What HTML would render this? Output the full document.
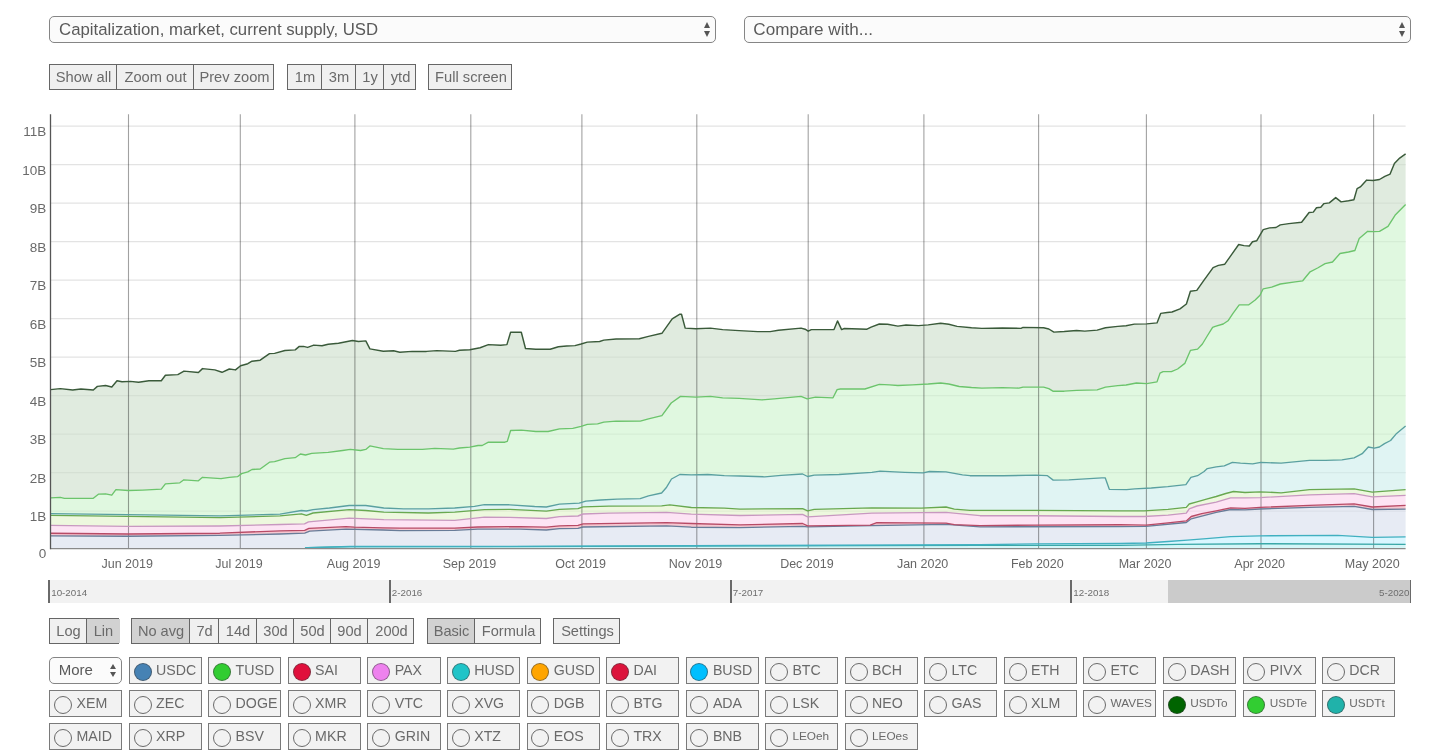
<!DOCTYPE html>
<html><head><meta charset="utf-8"><title>Chart</title>
<style>
html,body{margin:0;padding:0;background:#fff;}
body{width:1456px;height:750px;position:relative;overflow:hidden;font-family:"Liberation Sans",Arial,sans-serif;color:#666;}
.chart{position:absolute;left:0;top:0;}
.sel{position:absolute;box-sizing:border-box;border:1.5px solid #858585;border-radius:5px;background:#fbfbfb;}
.sel .st{position:absolute;top:1.6px;bottom:0;display:flex;align-items:center;color:#5a5a5a;white-space:nowrap;}
.arr{position:absolute;top:50%;width:7px;height:14.6px;margin-top:-7px;}
.arr:before,.arr:after{content:"";position:absolute;left:0;border-left:3.5px solid transparent;border-right:3.5px solid transparent;}
.arr:before{top:0;border-bottom:6px solid #555;}
.arr:after{bottom:0;border-top:6px solid #555;}
.arr.sm{width:6px;height:13px;margin-top:-6.8px;}.arr.sm:before,.arr.sm:after{border-left-width:3px;border-right-width:3px;}.arr.sm:before{border-bottom-width:5px;}.arr.sm:after{border-top-width:5px;}
.grp{position:absolute;box-sizing:border-box;border:1px solid #666;background:#f0f0f0;}
.grp .b{position:absolute;top:0;bottom:0;display:flex;align-items:center;justify-content:center;color:#6a6a6a;white-space:nowrap;}
.grp .b.act{background:#d2d2d2;}
.grp .dv{position:absolute;top:0;bottom:0;width:1px;background:#666;}
.nav{position:absolute;left:49.3px;top:579.8px;width:1361.7px;height:22.8px;background:#f2f2f2;}
.navsel{position:absolute;left:1118.7px;top:0;bottom:0;right:0;background:#cbcbcb;}
.ntick{position:absolute;top:0.4px;bottom:-0.4px;width:1.6px;background:#6a6a6a;}
.nlab{position:absolute;top:7px;font-size:9.8px;line-height:11px;color:#6e6e6e;}
.nlab.r{left:auto;}
.coin{position:absolute;box-sizing:border-box;width:73.2px;height:26.8px;border:1.5px solid #7a7a7a;background:#f2f2f2;}
.coin .c{position:absolute;left:3.9px;top:4.6px;width:16px;height:16px;border:1px solid #6a6a6a;border-radius:50%;box-sizing:content-box;}
.coin .c.f{border-color:rgba(60,60,60,0.55);}
.coin .cl{position:absolute;left:26.3px;top:-0.9px;bottom:0.9px;display:flex;align-items:center;color:#6a6a6a;white-space:nowrap;}
</style></head><body>
<svg class="chart" width="1456" height="610" viewBox="0 0 1456 610">
<g stroke="#e3e3e3" stroke-width="1.25"><line x1="50.5" x2="1405.6" y1="511.1" y2="511.1" /><line x1="50.5" x2="1405.6" y1="472.6" y2="472.6" /><line x1="50.5" x2="1405.6" y1="434.1" y2="434.1" /><line x1="50.5" x2="1405.6" y1="395.6" y2="395.6" /><line x1="50.5" x2="1405.6" y1="357.1" y2="357.1" /><line x1="50.5" x2="1405.6" y1="318.6" y2="318.6" /><line x1="50.5" x2="1405.6" y1="280.1" y2="280.1" /><line x1="50.5" x2="1405.6" y1="241.6" y2="241.6" /><line x1="50.5" x2="1405.6" y1="203.1" y2="203.1" /><line x1="50.5" x2="1405.6" y1="164.6" y2="164.6" /><line x1="50.5" x2="1405.6" y1="126.1" y2="126.1" /></g>
<g><polygon points="50.5,548.6 300.0,548.6 308.0,547.6 350.0,546.7 510.0,546.6 750.0,545.9 980.0,545.3 1120.0,545.4 1177.7,544.4 1260.0,543.7 1405.6,544.3 1405.6,548.6 1260.0,548.6 1177.7,548.6 1120.0,548.6 980.0,548.6 750.0,548.6 510.0,548.6 350.0,548.6 308.0,548.6 300.0,548.6 50.5,548.6" fill="rgb(185,240,244)" fill-opacity="0.62"/><polygon points="50.5,548.6 300.0,548.6 308.0,547.6 350.0,546.5 510.0,546.3 750.0,545.5 980.0,544.7 1035.0,543.8 1120.0,543.5 1146.0,543.0 1168.0,541.5 1177.7,540.8 1187.3,540.1 1206.5,538.7 1230.6,536.7 1260.0,535.8 1337.8,535.4 1372.3,537.4 1405.6,536.8 1405.6,544.3 1372.3,544.2 1337.8,544.0 1260.0,543.7 1230.6,544.0 1206.5,544.2 1187.3,544.3 1177.7,544.4 1168.0,544.6 1146.0,544.9 1120.0,545.4 1035.0,545.3 980.0,545.3 750.0,545.9 510.0,546.6 350.0,546.7 308.0,547.6 300.0,548.6 50.5,548.6" fill="rgb(193,240,255)" fill-opacity="0.62"/><polygon points="50.5,535.9 127.5,536.2 219.8,535.4 280.0,534.0 300.0,533.4 304.7,533.2 308.0,531.9 309.7,531.2 346.0,529.1 350.0,529.2 383.0,530.0 400.0,530.6 454.7,530.3 477.8,529.1 510.0,529.1 520.0,529.1 546.3,530.0 559.4,528.7 578.0,528.4 583.0,527.0 666.6,525.9 691.3,527.2 740.0,527.6 750.0,527.4 802.6,526.3 807.6,526.8 871.9,525.6 946.0,524.3 980.0,526.8 1035.0,526.7 1120.0,526.6 1146.0,526.3 1168.0,524.2 1186.3,522.5 1187.3,521.7 1191.2,518.8 1206.5,514.9 1216.2,512.4 1230.6,509.5 1245.0,509.8 1260.0,509.0 1309.5,507.4 1337.8,506.8 1354.1,506.4 1372.3,509.5 1405.6,509.1 1405.6,536.8 1372.3,537.4 1354.1,536.3 1337.8,535.4 1309.5,535.5 1260.0,535.8 1245.0,536.3 1230.6,536.7 1216.2,537.9 1206.5,538.7 1191.2,539.8 1187.3,540.1 1186.3,540.2 1168.0,541.5 1146.0,543.0 1120.0,543.5 1035.0,543.8 980.0,544.7 946.0,544.8 871.9,545.1 807.6,545.3 802.6,545.3 750.0,545.5 740.0,545.5 691.3,545.7 666.6,545.8 583.0,546.1 578.0,546.1 559.4,546.1 546.3,546.2 520.0,546.3 510.0,546.3 477.8,546.3 454.7,546.4 400.0,546.4 383.0,546.5 350.0,546.5 346.0,546.6 309.7,547.6 308.0,547.6 304.7,548.0 300.0,548.6 280.0,548.6 219.8,548.6 127.5,548.6 50.5,548.6" fill="rgb(217,223,238)" fill-opacity="0.62"/><polygon points="50.5,533.2 127.5,534.0 219.8,533.2 280.0,530.8 304.7,530.4 308.9,528.3 309.7,528.3 346.0,526.6 354.2,527.1 383.0,527.9 400.0,528.2 454.7,528.1 477.8,527.0 520.0,526.6 546.3,527.2 559.4,525.8 578.0,525.4 583.0,523.8 666.6,522.6 691.3,523.5 740.0,524.8 802.6,523.5 807.6,525.9 870.2,525.1 871.9,524.5 876.8,522.6 946.0,523.1 954.3,524.6 980.0,525.6 1035.9,525.1 1120.0,524.7 1146.0,525.2 1168.0,522.8 1186.3,520.9 1191.2,516.5 1201.7,513.7 1216.2,510.8 1230.6,507.9 1245.0,508.4 1260.0,507.4 1309.5,505.4 1354.1,503.8 1372.3,507.0 1405.6,505.4 1405.6,509.1 1372.3,509.5 1354.1,506.4 1309.5,507.4 1260.0,509.0 1245.0,509.8 1230.6,509.5 1216.2,512.4 1201.7,516.1 1191.2,518.8 1186.3,522.5 1168.0,524.2 1146.0,526.3 1120.0,526.6 1035.9,526.7 980.0,526.8 954.3,524.9 946.0,524.3 876.8,525.5 871.9,525.6 870.2,525.6 807.6,526.8 802.6,526.3 740.0,527.6 691.3,527.2 666.6,525.9 583.0,527.0 578.0,528.4 559.4,528.7 546.3,530.0 520.0,529.1 477.8,529.1 454.7,530.3 400.0,530.6 383.0,530.0 354.2,529.3 346.0,529.1 309.7,531.2 308.9,531.5 304.7,533.2 280.0,534.0 219.8,535.4 127.5,536.2 50.5,535.9" fill="rgb(241,164,180)" fill-opacity="0.62"/><polygon points="50.5,525.3 127.5,526.3 219.8,526.0 280.0,524.5 304.5,523.9 304.7,523.8 308.5,521.8 308.9,521.8 346.0,518.5 349.2,518.2 354.2,518.4 383.0,519.6 383.8,519.6 400.0,519.8 454.7,520.4 477.8,517.8 484.4,517.1 510.0,517.4 520.0,517.7 546.3,518.5 559.4,516.6 578.0,516.0 583.0,514.0 608.9,513.1 666.6,512.4 691.3,514.1 740.0,515.5 802.6,514.4 807.6,516.9 870.2,513.2 871.9,513.1 876.8,513.1 946.0,512.4 954.3,513.2 980.0,515.7 1035.9,515.7 1120.0,516.5 1144.0,516.5 1146.0,516.4 1168.0,515.1 1186.3,513.2 1189.2,508.8 1191.2,508.1 1196.9,506.0 1201.7,505.0 1216.2,502.1 1230.6,497.8 1245.0,497.8 1260.0,497.6 1309.5,494.9 1354.1,493.7 1372.3,496.9 1405.6,495.3 1405.6,505.4 1372.3,507.0 1354.1,503.8 1309.5,505.4 1260.0,507.4 1245.0,508.4 1230.6,507.9 1216.2,510.8 1201.7,513.7 1196.9,515.0 1191.2,516.5 1189.2,518.3 1186.3,520.9 1168.0,522.8 1146.0,525.2 1144.0,525.2 1120.0,524.7 1035.9,525.1 980.0,525.6 954.3,524.6 946.0,523.1 876.8,522.6 871.9,524.5 870.2,525.1 807.6,525.9 802.6,523.5 740.0,524.8 691.3,523.5 666.6,522.6 608.9,523.4 583.0,523.8 578.0,525.4 559.4,525.8 546.3,527.2 520.0,526.6 510.0,526.7 484.4,526.9 477.8,527.0 454.7,528.1 400.0,528.2 383.8,527.9 383.0,527.9 354.2,527.1 349.2,526.8 346.0,526.6 308.9,528.3 308.5,528.5 304.7,530.4 304.5,530.4 280.0,530.8 219.8,533.2 127.5,534.0 50.5,533.2" fill="rgb(251,211,238)" fill-opacity="0.62"/><polygon points="50.5,515.4 127.5,516.4 219.8,517.7 280.0,515.9 301.4,513.8 304.5,514.8 306.4,515.4 308.5,514.6 313.0,513.0 349.2,509.7 365.7,510.5 383.8,512.1 428.3,513.0 454.7,512.1 484.4,509.7 510.0,509.4 546.3,511.1 559.4,509.3 578.0,508.7 583.0,506.8 608.9,506.2 661.6,505.8 666.6,505.2 669.9,504.8 691.3,507.5 724.3,508.1 740.0,509.1 802.6,508.6 807.6,510.8 814.2,509.4 871.9,507.8 921.3,508.1 946.0,507.0 954.3,509.1 970.0,510.3 980.0,510.3 1035.9,510.3 1120.0,510.8 1144.0,510.8 1168.0,509.3 1186.3,507.4 1189.2,504.0 1196.9,501.9 1206.5,499.2 1216.2,496.5 1225.8,493.5 1230.6,492.3 1233.5,491.5 1245.0,492.5 1260.0,491.8 1281.1,492.8 1309.5,489.6 1354.1,488.8 1372.3,492.2 1405.6,489.6 1405.6,495.3 1372.3,496.9 1354.1,493.7 1309.5,494.9 1281.1,496.4 1260.0,497.6 1245.0,497.8 1233.5,497.8 1230.6,497.8 1225.8,499.2 1216.2,502.1 1206.5,504.1 1196.9,506.0 1189.2,508.8 1186.3,513.2 1168.0,515.1 1144.0,516.5 1120.0,516.5 1035.9,515.7 980.0,515.7 970.0,514.7 954.3,513.2 946.0,512.4 921.3,512.6 871.9,513.1 814.2,516.5 807.6,516.9 802.6,514.4 740.0,515.5 724.3,515.0 691.3,514.1 669.9,512.6 666.6,512.4 661.6,512.5 608.9,513.1 583.0,514.0 578.0,516.0 559.4,516.6 546.3,518.5 510.0,517.4 484.4,517.1 454.7,520.4 428.3,520.1 383.8,519.6 365.7,518.9 349.2,518.2 313.0,521.4 308.5,521.8 306.4,522.9 304.5,523.9 301.4,524.0 280.0,524.5 219.8,526.0 127.5,526.3 50.5,525.3" fill="rgb(226,244,201)" fill-opacity="0.62"/><polygon points="50.5,513.6 127.5,514.7 219.8,515.9 280.0,514.2 301.4,510.5 306.4,511.0 313.0,509.7 329.4,508.0 349.2,505.5 365.7,505.5 383.8,508.0 403.6,508.8 428.3,508.8 454.7,508.0 474.5,506.4 484.4,504.7 510.0,504.8 534.7,506.5 546.3,507.0 559.4,504.2 578.0,503.3 579.2,503.2 583.0,502.0 585.8,501.2 600.7,500.0 608.9,499.6 617.1,499.2 640.2,498.7 648.5,495.9 661.6,493.0 666.6,487.2 669.9,481.7 671.5,479.0 679.8,474.5 691.3,474.8 707.8,474.5 724.3,475.7 740.0,476.0 764.7,476.8 781.2,475.3 802.6,474.0 807.6,476.5 814.2,475.2 838.9,474.5 871.9,472.4 880.1,471.2 904.8,472.4 921.3,472.9 923.0,472.9 929.5,471.5 946.0,471.9 954.3,473.4 962.5,474.8 970.0,475.7 1003.0,475.7 1035.9,475.2 1047.5,475.7 1053.2,480.1 1068.9,479.8 1101.9,477.8 1105.2,477.8 1109.3,489.3 1120.0,489.5 1126.6,489.7 1134.8,488.8 1144.0,488.4 1151.3,488.0 1167.8,486.7 1168.0,486.7 1185.9,484.7 1186.3,484.1 1189.2,479.8 1190.9,477.3 1196.9,475.8 1197.5,475.7 1204.1,471.5 1206.5,469.3 1207.3,468.6 1216.2,466.9 1224.3,465.9 1225.8,465.3 1232.4,462.4 1233.5,462.5 1240.5,463.2 1245.0,463.5 1252.7,463.9 1260.0,462.5 1260.8,462.4 1281.1,463.2 1309.5,460.4 1325.7,460.4 1341.9,459.8 1354.1,457.8 1362.2,453.7 1368.3,447.0 1372.3,447.8 1374.3,448.2 1379.4,447.0 1384.5,443.6 1390.6,440.5 1396.6,433.4 1405.6,425.9 1405.6,489.6 1396.6,490.3 1390.6,490.8 1384.5,491.2 1379.4,491.6 1374.3,492.0 1372.3,492.2 1368.3,491.5 1362.2,490.3 1354.1,488.8 1341.9,489.0 1325.7,489.3 1309.5,489.6 1281.1,492.8 1260.8,491.8 1260.0,491.8 1252.7,492.1 1245.0,492.5 1240.5,492.1 1233.5,491.5 1232.4,491.8 1225.8,493.5 1224.3,494.0 1216.2,496.5 1207.3,499.0 1206.5,499.2 1204.1,499.9 1197.5,501.7 1196.9,501.9 1190.9,503.5 1189.2,504.0 1186.3,507.4 1185.9,507.4 1168.0,509.3 1167.8,509.3 1151.3,510.3 1144.0,510.8 1134.8,510.8 1126.6,510.8 1120.0,510.8 1109.3,510.7 1105.2,510.7 1101.9,510.7 1068.9,510.5 1053.2,510.4 1047.5,510.4 1035.9,510.3 1003.0,510.3 970.0,510.3 962.5,509.7 954.3,509.1 946.0,507.0 929.5,507.7 923.0,508.0 921.3,508.1 904.8,508.0 880.1,507.8 871.9,507.8 838.9,508.7 814.2,509.4 807.6,510.8 802.6,508.6 781.2,508.8 764.7,508.9 740.0,509.1 724.3,508.1 707.8,507.8 691.3,507.5 679.8,506.0 671.5,505.0 669.9,504.8 666.6,505.2 661.6,505.8 648.5,505.9 640.2,506.0 617.1,506.1 608.9,506.2 600.7,506.4 585.8,506.7 583.0,506.8 579.2,508.2 578.0,508.7 559.4,509.3 546.3,511.1 534.7,510.6 510.0,509.4 484.4,509.7 474.5,510.5 454.7,512.1 428.3,513.0 403.6,512.5 383.8,512.1 365.7,510.5 349.2,509.7 329.4,511.5 313.0,513.0 306.4,515.4 301.4,513.8 280.0,515.9 219.8,517.7 127.5,516.4 50.5,515.4" fill="rgb(205,238,236)" fill-opacity="0.62"/><polygon points="50.5,497.9 60.3,497.3 64.4,498.3 93.3,498.3 98.4,494.2 105.6,493.8 111.8,495.2 115.9,489.6 127.5,490.4 128.3,490.5 142.7,490.1 161.3,489.2 165.4,483.9 179.8,482.8 183.9,479.8 198.4,480.8 202.5,477.3 219.8,478.6 221.0,478.7 229.3,477.3 237.5,476.7 241.6,473.6 247.8,471.9 252.0,469.5 260.2,469.0 269.5,462.2 274.6,461.6 280.0,460.1 284.9,458.7 295.2,457.7 300.4,454.0 301.4,454.2 305.5,455.0 306.4,454.8 311.7,453.4 313.0,453.3 328.2,452.4 329.4,452.2 342.6,450.5 349.2,449.6 350.3,449.4 360.6,450.5 365.7,449.4 365.8,449.4 369.9,445.9 383.3,448.6 383.8,448.6 397.7,449.4 403.6,449.4 422.4,449.4 428.3,448.9 434.8,448.4 453.3,449.2 454.7,448.9 459.5,448.0 469.8,447.2 474.5,446.2 478.1,445.5 482.2,445.5 484.4,444.3 488.4,442.2 504.8,442.2 507.3,441.4 510.0,432.5 510.6,430.5 521.3,430.1 534.7,431.4 535.8,431.5 546.3,431.5 548.1,431.5 559.4,428.8 559.5,428.8 572.8,428.4 579.2,426.9 581.1,426.4 585.8,424.8 587.3,424.3 597.6,423.9 600.7,423.0 603.8,422.2 616.1,421.2 617.1,421.2 640.2,421.1 640.3,421.1 648.5,418.8 661.6,415.8 661.9,415.7 666.6,409.3 671.2,403.0 671.5,402.8 679.8,396.9 680.5,396.4 691.3,397.0 695.9,397.2 707.8,396.5 710.4,396.4 722.7,397.8 724.3,397.9 739.2,398.4 740.0,398.5 761.9,399.9 764.7,399.6 774.2,398.8 781.2,398.2 801.0,396.4 802.6,397.0 807.2,398.8 807.6,398.7 814.2,397.5 815.5,397.2 833.0,397.8 837.1,389.6 838.9,389.3 840.2,389.0 864.9,389.0 871.9,386.8 879.3,384.4 880.1,384.4 889.6,384.8 897.9,385.5 904.8,385.2 912.3,384.8 923.0,384.3 928.2,384.0 929.5,383.9 940.6,383.0 946.0,383.7 948.8,384.0 959.2,386.5 962.5,386.8 970.0,387.4 971.5,387.5 981.8,388.1 1002.4,387.7 1003.0,387.7 1018.9,388.1 1023.0,387.1 1035.9,387.1 1043.6,387.1 1047.5,388.3 1048.8,388.7 1052.9,391.2 1053.2,391.2 1064.2,391.2 1068.9,390.9 1076.6,390.4 1097.2,389.8 1101.9,388.3 1105.2,387.2 1105.5,387.1 1109.3,386.6 1117.8,385.6 1126.1,385.0 1126.6,384.9 1134.8,383.3 1136.4,383.0 1146.7,383.6 1151.3,382.8 1157.0,381.9 1160.0,373.1 1163.1,371.6 1167.8,371.6 1171.4,371.6 1177.6,369.0 1184.8,363.4 1185.9,360.8 1187.9,356.2 1190.4,350.4 1190.9,350.3 1197.5,349.1 1197.6,349.1 1202.4,344.0 1204.1,341.2 1207.2,336.0 1207.3,335.8 1212.6,327.4 1215.2,326.4 1216.2,326.1 1223.2,324.0 1224.3,323.3 1228.0,320.8 1232.4,314.2 1232.8,313.6 1239.2,304.8 1240.5,304.8 1248.8,304.8 1252.7,301.9 1255.2,300.0 1260.0,295.2 1260.8,293.6 1263.2,288.8 1271.7,287.2 1280.3,284.0 1281.1,283.9 1295.2,281.9 1302.7,280.8 1309.5,272.5 1310.1,271.8 1317.6,268.0 1325.1,263.7 1325.7,263.6 1332.5,262.0 1340.0,253.5 1341.9,253.2 1348.5,252.0 1354.1,250.7 1354.9,250.5 1359.2,238.6 1362.2,236.0 1367.7,231.3 1368.3,231.3 1374.1,231.7 1374.3,231.7 1379.4,231.3 1379.5,231.3 1384.5,228.4 1388.0,226.4 1390.6,222.3 1395.5,214.7 1396.6,213.6 1405.6,204.6 1405.6,425.9 1396.6,433.4 1395.5,434.7 1390.6,440.5 1388.0,441.8 1384.5,443.6 1379.5,446.9 1379.4,447.0 1374.3,448.2 1374.1,448.2 1368.3,447.0 1367.7,447.7 1362.2,453.7 1359.2,455.2 1354.9,457.4 1354.1,457.8 1348.5,458.7 1341.9,459.8 1340.0,459.9 1332.5,460.1 1325.7,460.4 1325.1,460.4 1317.6,460.4 1310.1,460.4 1309.5,460.4 1302.7,461.1 1295.2,461.8 1281.1,463.2 1280.3,463.2 1271.7,462.8 1263.2,462.5 1260.8,462.4 1260.0,462.5 1255.2,463.4 1252.7,463.9 1248.8,463.7 1240.5,463.2 1239.2,463.1 1232.8,462.4 1232.4,462.4 1228.0,464.3 1224.3,465.9 1223.2,466.0 1216.2,466.9 1215.2,467.1 1212.6,467.6 1207.3,468.6 1207.2,468.7 1204.1,471.5 1202.4,472.6 1197.6,475.6 1197.5,475.7 1190.9,477.3 1190.4,478.0 1187.9,481.7 1185.9,484.7 1184.8,484.8 1177.6,485.6 1171.4,486.3 1167.8,486.7 1163.1,487.1 1160.0,487.3 1157.0,487.6 1151.3,488.0 1146.7,488.2 1136.4,488.7 1134.8,488.8 1126.6,489.7 1126.1,489.7 1117.8,489.5 1109.3,489.3 1105.5,478.6 1105.2,477.8 1101.9,477.8 1097.2,478.1 1076.6,479.3 1068.9,479.8 1064.2,479.9 1053.2,480.1 1052.9,479.9 1048.8,476.7 1047.5,475.7 1043.6,475.5 1035.9,475.2 1023.0,475.4 1018.9,475.5 1003.0,475.7 1002.4,475.7 981.8,475.7 971.5,475.7 970.0,475.7 962.5,474.8 959.2,474.2 948.8,472.4 946.0,471.9 940.6,471.8 929.5,471.5 928.2,471.8 923.0,472.9 912.3,472.6 904.8,472.4 897.9,472.1 889.6,471.7 880.1,471.2 879.3,471.3 871.9,472.4 864.9,472.8 840.2,474.4 838.9,474.5 837.1,474.6 833.0,474.7 815.5,475.2 814.2,475.2 807.6,476.5 807.2,476.3 802.6,474.0 801.0,474.1 781.2,475.3 774.2,475.9 764.7,476.8 761.9,476.7 740.0,476.0 739.2,476.0 724.3,475.7 722.7,475.6 710.4,474.7 707.8,474.5 695.9,474.7 691.3,474.8 680.5,474.5 679.8,474.5 671.5,479.0 671.2,479.5 666.6,487.2 661.9,492.7 661.6,493.0 648.5,495.9 640.3,498.7 640.2,498.7 617.1,499.2 616.1,499.2 603.8,499.8 600.7,500.0 597.6,500.2 587.3,501.1 585.8,501.2 581.1,502.6 579.2,503.2 572.8,503.5 559.5,504.2 559.4,504.2 548.1,506.6 546.3,507.0 535.8,506.5 534.7,506.5 521.3,505.6 510.6,504.8 510.0,504.8 507.3,504.8 504.8,504.8 488.4,504.7 484.4,504.7 482.2,505.1 478.1,505.8 474.5,506.4 469.8,506.8 459.5,507.6 454.7,508.0 453.3,508.0 434.8,508.6 428.3,508.8 422.4,508.8 403.6,508.8 397.7,508.6 383.8,508.0 383.3,507.9 369.9,506.1 365.8,505.5 365.7,505.5 360.6,505.5 350.3,505.5 349.2,505.5 342.6,506.3 329.4,508.0 328.2,508.1 313.0,509.7 311.7,510.0 306.4,511.0 305.5,510.9 301.4,510.5 300.4,510.7 295.2,511.6 284.9,513.4 280.0,514.2 274.6,514.4 269.5,514.5 260.2,514.8 252.0,515.0 247.8,515.1 241.6,515.3 237.5,515.4 229.3,515.6 221.0,515.9 219.8,515.9 202.5,515.7 198.4,515.6 183.9,515.4 179.8,515.4 165.4,515.2 161.3,515.1 142.7,514.9 128.3,514.7 127.5,514.7 115.9,514.5 111.8,514.5 105.6,514.4 98.4,514.3 93.3,514.2 64.4,513.8 60.3,513.7 50.5,513.6" fill="rgb(205,243,205)" fill-opacity="0.62"/><polygon points="50.5,389.6 60.3,388.6 64.4,389.1 72.7,390.0 80.9,389.0 93.3,390.0 97.4,386.4 98.4,386.3 105.6,385.5 111.8,387.0 115.9,382.1 117.0,380.8 122.0,381.8 128.3,381.5 130.4,381.4 138.6,382.2 142.7,381.6 148.9,380.8 161.3,380.8 165.4,375.2 177.8,374.6 179.8,373.5 183.9,371.2 184.0,371.1 198.4,372.5 202.5,368.6 214.8,369.9 221.0,372.0 222.0,372.3 229.3,369.0 235.5,369.9 237.5,368.3 240.6,365.7 241.6,365.4 247.8,363.7 252.0,361.2 260.2,360.2 269.5,353.6 274.6,353.4 284.9,350.5 295.2,349.9 299.3,346.4 300.4,346.4 303.5,346.4 305.5,346.9 307.6,347.4 311.7,345.9 313.8,345.1 322.0,345.8 328.2,344.3 338.5,343.3 342.6,342.5 350.3,340.9 352.4,340.5 358.5,341.5 360.6,341.3 365.8,340.9 369.9,348.9 383.3,351.2 393.6,350.8 397.7,351.7 399.8,352.2 412.1,351.4 422.4,351.4 426.5,351.4 434.8,350.8 436.8,350.6 453.3,351.3 455.4,351.4 459.5,350.2 469.8,349.8 478.1,348.1 480.1,347.7 482.2,346.9 488.4,344.6 500.7,345.2 504.8,344.8 506.9,344.6 507.3,343.3 510.6,332.2 521.3,332.2 525.5,348.5 535.8,349.3 548.1,349.3 550.2,349.3 558.4,346.7 559.5,346.6 566.7,346.0 572.8,345.7 574.9,345.6 581.1,344.0 587.3,342.1 597.6,341.6 599.6,341.5 603.8,340.1 616.1,339.0 639.3,338.8 640.3,338.5 648.5,336.4 661.9,333.3 671.2,320.2 672.2,318.8 679.5,314.3 680.5,314.3 681.5,314.3 685.2,328.1 695.9,328.7 710.4,328.1 722.7,329.6 739.2,330.6 757.8,331.6 761.9,331.6 770.1,331.6 774.2,330.9 778.4,330.2 801.0,328.1 805.1,329.2 807.2,330.6 808.2,331.2 811.3,329.6 815.5,329.6 833.0,329.6 834.0,329.6 837.1,321.9 837.5,320.9 840.2,326.6 841.6,329.6 844.3,328.5 864.9,329.1 867.0,329.2 871.1,327.1 879.3,324.0 887.6,324.2 889.6,324.6 897.9,326.1 906.1,325.0 912.3,325.3 918.5,325.6 928.2,324.9 940.6,323.3 948.8,324.3 957.1,326.4 959.2,326.6 971.5,327.8 981.8,328.4 1002.4,328.0 1018.9,328.4 1021.0,328.4 1023.0,327.4 1043.6,327.8 1048.8,329.0 1052.9,331.5 1053.9,332.1 1064.2,331.5 1076.6,330.5 1084.8,331.1 1097.2,330.1 1105.5,327.8 1117.8,326.4 1126.1,325.7 1134.3,324.1 1136.4,324.1 1146.7,323.9 1157.0,322.9 1160.0,315.2 1160.7,313.4 1163.1,313.1 1167.2,312.5 1171.4,312.1 1172.0,312.0 1177.6,309.8 1180.0,308.8 1184.8,305.2 1186.4,304.0 1187.9,299.2 1190.4,291.2 1196.8,290.4 1197.6,289.3 1202.4,282.4 1203.5,280.8 1207.2,275.7 1212.6,268.3 1213.1,267.6 1215.2,266.7 1218.4,265.4 1223.2,264.5 1224.8,264.2 1228.0,259.7 1231.2,255.2 1232.8,252.9 1238.7,244.5 1239.2,244.6 1244.0,245.6 1248.8,246.0 1249.3,246.0 1252.5,241.8 1255.2,241.1 1256.8,240.7 1260.0,235.1 1263.2,229.6 1269.6,227.9 1271.7,227.8 1276.0,227.5 1280.3,224.9 1288.8,223.6 1295.2,222.9 1301.6,222.3 1302.7,220.9 1309.1,212.5 1310.1,212.4 1313.3,212.1 1316.5,207.8 1317.6,207.6 1320.8,207.2 1324.0,203.6 1325.1,203.5 1329.3,202.9 1332.5,200.2 1335.7,197.6 1340.0,201.0 1341.1,201.9 1348.5,200.8 1353.9,199.7 1354.9,196.2 1357.1,188.6 1359.2,187.5 1360.3,186.9 1366.7,180.1 1367.7,180.2 1373.1,180.5 1374.1,180.3 1379.5,179.5 1384.8,176.3 1388.0,175.0 1390.1,174.1 1394.4,163.5 1395.5,162.4 1399.7,158.1 1405.6,153.9 1405.6,204.6 1399.7,210.5 1395.5,214.7 1394.4,216.4 1390.1,223.1 1388.0,226.4 1384.8,228.2 1379.5,231.3 1374.1,231.7 1373.1,231.6 1367.7,231.3 1366.7,232.2 1360.3,237.7 1359.2,238.6 1357.1,244.4 1354.9,250.5 1353.9,250.7 1348.5,252.0 1341.1,253.3 1340.0,253.5 1335.7,258.4 1332.5,262.0 1329.3,262.7 1325.1,263.7 1324.0,264.3 1320.8,266.2 1317.6,268.0 1316.5,268.6 1313.3,270.2 1310.1,271.8 1309.1,273.0 1302.7,280.8 1301.6,281.0 1295.2,281.9 1288.8,282.8 1280.3,284.0 1276.0,285.6 1271.7,287.2 1269.6,287.6 1263.2,288.8 1260.0,295.2 1256.8,298.4 1255.2,300.0 1252.5,302.0 1249.3,304.4 1248.8,304.8 1244.0,304.8 1239.2,304.8 1238.7,305.5 1232.8,313.6 1231.2,316.0 1228.0,320.8 1224.8,322.9 1223.2,324.0 1218.4,325.4 1215.2,326.4 1213.1,327.2 1212.6,327.4 1207.2,336.0 1203.5,342.2 1202.4,344.0 1197.6,349.1 1196.8,349.2 1190.4,350.4 1187.9,356.2 1186.4,359.7 1184.8,363.4 1180.0,367.1 1177.6,369.0 1172.0,371.3 1171.4,371.6 1167.2,371.6 1163.1,371.6 1160.7,372.8 1160.0,373.1 1157.0,381.9 1146.7,383.6 1136.4,383.0 1134.3,383.4 1126.1,385.0 1117.8,385.6 1105.5,387.1 1097.2,389.8 1084.8,390.2 1076.6,390.4 1064.2,391.2 1053.9,391.2 1052.9,391.2 1048.8,388.7 1043.6,387.1 1023.0,387.1 1021.0,387.6 1018.9,388.1 1002.4,387.7 981.8,388.1 971.5,387.5 959.2,386.5 957.1,386.0 948.8,384.0 940.6,383.0 928.2,384.0 918.5,384.5 912.3,384.8 906.1,385.1 897.9,385.5 889.6,384.8 887.6,384.7 879.3,384.4 871.1,387.0 867.0,388.3 864.9,389.0 844.3,389.0 841.6,389.0 840.2,389.0 837.5,389.5 837.1,389.6 834.0,395.8 833.0,397.8 815.5,397.2 811.3,398.0 808.2,398.6 807.2,398.8 805.1,398.0 801.0,396.4 778.4,398.4 774.2,398.8 770.1,399.2 761.9,399.9 757.8,399.6 739.2,398.4 722.7,397.8 710.4,396.4 695.9,397.2 685.2,396.6 681.5,396.5 680.5,396.4 679.5,397.1 672.2,402.3 671.2,403.0 661.9,415.7 648.5,418.8 640.3,421.1 639.3,421.1 616.1,421.2 603.8,422.2 599.6,423.4 597.6,423.9 587.3,424.3 581.1,426.4 574.9,427.9 572.8,428.4 566.7,428.6 559.5,428.8 558.4,429.1 550.2,431.0 548.1,431.5 535.8,431.5 525.5,430.5 521.3,430.1 510.6,430.5 507.3,441.4 506.9,441.5 504.8,442.2 500.7,442.2 488.4,442.2 482.2,445.5 480.1,445.5 478.1,445.5 469.8,447.2 459.5,448.0 455.4,448.8 453.3,449.2 436.8,448.5 434.8,448.4 426.5,449.1 422.4,449.4 412.1,449.4 399.8,449.4 397.7,449.4 393.6,449.2 383.3,448.6 369.9,445.9 365.8,449.4 360.6,450.5 358.5,450.3 352.4,449.6 350.3,449.4 342.6,450.5 338.5,451.0 328.2,452.4 322.0,452.8 313.8,453.3 311.7,453.4 307.6,454.5 305.5,455.0 303.5,454.6 300.4,454.0 299.3,454.8 295.2,457.7 284.9,458.7 274.6,461.6 269.5,462.2 260.2,469.0 252.0,469.5 247.8,471.9 241.6,473.6 240.6,474.4 237.5,476.7 235.5,476.8 229.3,477.3 222.0,478.5 221.0,478.7 214.8,478.2 202.5,477.3 198.4,480.8 184.0,479.8 183.9,479.8 179.8,482.8 177.8,483.0 165.4,483.9 161.3,489.2 148.9,489.8 142.7,490.1 138.6,490.2 130.4,490.4 128.3,490.5 122.0,490.0 117.0,489.7 115.9,489.6 111.8,495.2 105.6,493.8 98.4,494.2 97.4,495.0 93.3,498.3 80.9,498.3 72.7,498.3 64.4,498.3 60.3,497.3 50.5,497.9" fill="rgb(205,223,203)" fill-opacity="0.62"/></g>
<g stroke="#000" stroke-opacity="0.37" stroke-width="1.1"><line x1="128.5" x2="128.5" y1="114.2" y2="548.6" /><line x1="240.3" x2="240.3" y1="114.2" y2="548.6" /><line x1="354.9" x2="354.9" y1="114.2" y2="548.6" /><line x1="470.8" x2="470.8" y1="114.2" y2="548.6" /><line x1="581.9" x2="581.9" y1="114.2" y2="548.6" /><line x1="696.8" x2="696.8" y1="114.2" y2="548.6" /><line x1="808.2" x2="808.2" y1="114.2" y2="548.6" /><line x1="923.9" x2="923.9" y1="114.2" y2="548.6" /><line x1="1038.6" x2="1038.6" y1="114.2" y2="548.6" /><line x1="1146.4" x2="1146.4" y1="114.2" y2="548.6" /><line x1="1261.0" x2="1261.0" y1="114.2" y2="548.6" /><line x1="1373.6" x2="1373.6" y1="114.2" y2="548.6" /></g>
<g><polyline points="305.0,548.0 308.0,547.6 350.0,546.7 510.0,546.6 750.0,545.9 980.0,545.3 1120.0,545.4 1177.7,544.4 1260.0,543.7 1405.6,544.3" fill="none" stroke="#3aa8a8" stroke-width="1.35" stroke-linejoin="round"/><polyline points="305.0,548.0 308.0,547.6 350.0,546.5 510.0,546.3 750.0,545.5 980.0,544.7 1035.0,543.8 1120.0,543.5 1146.0,543.0 1168.0,541.5 1187.3,540.1 1206.5,538.7 1230.6,536.7 1260.0,535.8 1337.8,535.4 1372.3,537.4 1405.6,536.8" fill="none" stroke="#40b0c0" stroke-width="1.35" stroke-linejoin="round"/><polyline points="50.5,535.9 127.5,536.2 219.8,535.4 280.0,534.0 304.7,533.2 309.7,531.2 346.0,529.1 383.0,530.0 400.0,530.6 454.7,530.3 477.8,529.1 520.0,529.1 546.3,530.0 559.4,528.7 578.0,528.4 583.0,527.0 666.6,525.9 691.3,527.2 740.0,527.6 802.6,526.3 807.6,526.8 871.9,525.6 946.0,524.3 980.0,526.8 1120.0,526.6 1146.0,526.3 1186.3,522.5 1191.2,518.8 1216.2,512.4 1230.6,509.5 1245.0,509.8 1260.0,509.0 1309.5,507.4 1354.1,506.4 1372.3,509.5 1405.6,509.1" fill="none" stroke="#687c98" stroke-width="1.35" stroke-linejoin="round"/><polyline points="50.5,533.2 127.5,534.0 219.8,533.2 280.0,530.8 304.7,530.4 308.9,528.3 346.0,526.6 354.2,527.1 383.0,527.9 400.0,528.2 454.7,528.1 477.8,527.0 520.0,526.6 546.3,527.2 559.4,525.8 578.0,525.4 583.0,523.8 666.6,522.6 691.3,523.5 740.0,524.8 802.6,523.5 807.6,525.9 870.2,525.1 876.8,522.6 946.0,523.1 954.3,524.6 980.0,525.6 1035.9,525.1 1120.0,524.7 1146.0,525.2 1168.0,522.8 1186.3,520.9 1191.2,516.5 1201.7,513.7 1216.2,510.8 1230.6,507.9 1245.0,508.4 1260.0,507.4 1309.5,505.4 1354.1,503.8 1372.3,507.0 1405.6,505.4" fill="none" stroke="#b84a66" stroke-width="1.35" stroke-linejoin="round"/><polyline points="50.5,525.3 127.5,526.3 219.8,526.0 280.0,524.5 304.5,523.9 308.5,521.8 349.2,518.2 383.8,519.6 454.7,520.4 484.4,517.1 510.0,517.4 546.3,518.5 559.4,516.6 578.0,516.0 583.0,514.0 608.9,513.1 666.6,512.4 691.3,514.1 740.0,515.5 802.6,514.4 807.6,516.9 871.9,513.1 946.0,512.4 980.0,515.7 1035.9,515.7 1120.0,516.5 1144.0,516.5 1168.0,515.1 1186.3,513.2 1189.2,508.8 1196.9,506.0 1216.2,502.1 1230.6,497.8 1245.0,497.8 1260.0,497.6 1309.5,494.9 1354.1,493.7 1372.3,496.9 1405.6,495.3" fill="none" stroke="#c898c0" stroke-width="1.35" stroke-linejoin="round"/><polyline points="50.5,513.6 127.5,514.7 219.8,515.9 280.0,514.2 301.4,510.5 306.4,511.0 313.0,509.7 329.4,508.0 349.2,505.5 365.7,505.5 383.8,508.0 403.6,508.8 428.3,508.8 454.7,508.0 474.5,506.4 484.4,504.7 510.0,504.8 534.7,506.5 546.3,507.0 559.4,504.2 579.2,503.2 585.8,501.2 600.7,500.0 617.1,499.2 640.2,498.7 648.5,495.9 661.6,493.0 666.6,487.2 671.5,479.0 679.8,474.5 691.3,474.8 707.8,474.5 724.3,475.7 740.0,476.0 764.7,476.8 781.2,475.3 802.6,474.0 807.6,476.5 814.2,475.2 838.9,474.5 871.9,472.4 880.1,471.2 904.8,472.4 923.0,472.9 929.5,471.5 946.0,471.9 962.5,474.8 970.0,475.7 1003.0,475.7 1035.9,475.2 1047.5,475.7 1053.2,480.1 1068.9,479.8 1101.9,477.8 1105.2,477.8 1109.3,489.3 1126.6,489.7 1134.8,488.8 1151.3,488.0 1167.8,486.7 1185.9,484.7 1190.9,477.3 1197.5,475.7 1204.1,471.5 1207.3,468.6 1216.2,466.9 1224.3,465.9 1232.4,462.4 1240.5,463.2 1252.7,463.9 1260.8,462.4 1281.1,463.2 1309.5,460.4 1325.7,460.4 1341.9,459.8 1354.1,457.8 1362.2,453.7 1368.3,447.0 1374.3,448.2 1379.4,447.0 1384.5,443.6 1390.6,440.5 1396.6,433.4 1405.6,425.9" fill="none" stroke="#5aa0a0" stroke-width="1.35" stroke-linejoin="round"/><polyline points="50.5,515.4 127.5,516.4 219.8,517.7 280.0,515.9 301.4,513.8 306.4,515.4 313.0,513.0 349.2,509.7 365.7,510.5 383.8,512.1 428.3,513.0 454.7,512.1 484.4,509.7 510.0,509.4 546.3,511.1 559.4,509.3 578.0,508.7 583.0,506.8 608.9,506.2 661.6,505.8 669.9,504.8 691.3,507.5 724.3,508.1 740.0,509.1 802.6,508.6 807.6,510.8 814.2,509.4 871.9,507.8 921.3,508.1 946.0,507.0 954.3,509.1 970.0,510.3 1035.9,510.3 1120.0,510.8 1144.0,510.8 1168.0,509.3 1186.3,507.4 1189.2,504.0 1196.9,501.9 1206.5,499.2 1216.2,496.5 1225.8,493.5 1233.5,491.5 1245.0,492.5 1260.0,491.8 1281.1,492.8 1309.5,489.6 1354.1,488.8 1372.3,492.2 1405.6,489.6" fill="none" stroke="#68a850" stroke-width="1.35" stroke-linejoin="round"/><polyline points="50.5,497.9 60.3,497.3 64.4,498.3 93.3,498.3 98.4,494.2 105.6,493.8 111.8,495.2 115.9,489.6 128.3,490.5 142.7,490.1 161.3,489.2 165.4,483.9 179.8,482.8 183.9,479.8 198.4,480.8 202.5,477.3 221.0,478.7 229.3,477.3 237.5,476.7 241.6,473.6 247.8,471.9 252.0,469.5 260.2,469.0 269.5,462.2 274.6,461.6 284.9,458.7 295.2,457.7 300.4,454.0 305.5,455.0 311.7,453.4 328.2,452.4 342.6,450.5 350.3,449.4 360.6,450.5 365.8,449.4 369.9,445.9 383.3,448.6 397.7,449.4 422.4,449.4 434.8,448.4 453.3,449.2 459.5,448.0 469.8,447.2 478.1,445.5 482.2,445.5 488.4,442.2 504.8,442.2 507.3,441.4 510.6,430.5 521.3,430.1 535.8,431.5 548.1,431.5 559.5,428.8 572.8,428.4 581.1,426.4 587.3,424.3 597.6,423.9 603.8,422.2 616.1,421.2 640.3,421.1 648.5,418.8 661.9,415.7 671.2,403.0 680.5,396.4 695.9,397.2 710.4,396.4 722.7,397.8 739.2,398.4 761.9,399.9 774.2,398.8 801.0,396.4 807.2,398.8 815.5,397.2 833.0,397.8 837.1,389.6 840.2,389.0 864.9,389.0 879.3,384.4 889.6,384.8 897.9,385.5 912.3,384.8 928.2,384.0 940.6,383.0 948.8,384.0 959.2,386.5 971.5,387.5 981.8,388.1 1002.4,387.7 1018.9,388.1 1023.0,387.1 1043.6,387.1 1048.8,388.7 1052.9,391.2 1064.2,391.2 1076.6,390.4 1097.2,389.8 1105.5,387.1 1117.8,385.6 1126.1,385.0 1136.4,383.0 1146.7,383.6 1157.0,381.9 1160.0,373.1 1163.1,371.6 1171.4,371.6 1177.6,369.0 1184.8,363.4 1187.9,356.2 1190.4,350.4 1197.6,349.1 1202.4,344.0 1207.2,336.0 1212.6,327.4 1215.2,326.4 1223.2,324.0 1228.0,320.8 1232.8,313.6 1239.2,304.8 1248.8,304.8 1255.2,300.0 1260.0,295.2 1263.2,288.8 1271.7,287.2 1280.3,284.0 1295.2,281.9 1302.7,280.8 1310.1,271.8 1317.6,268.0 1325.1,263.7 1332.5,262.0 1340.0,253.5 1348.5,252.0 1354.9,250.5 1359.2,238.6 1367.7,231.3 1374.1,231.7 1379.5,231.3 1388.0,226.4 1395.5,214.7 1405.6,204.6" fill="none" stroke="#6cc46c" stroke-width="1.35" stroke-linejoin="round"/><polyline points="50.5,389.6 60.3,388.6 72.7,390.0 80.9,389.0 93.3,390.0 97.4,386.4 105.6,385.5 111.8,387.0 117.0,380.8 122.0,381.8 130.4,381.4 138.6,382.2 148.9,380.8 161.3,380.8 165.4,375.2 177.8,374.6 184.0,371.1 198.4,372.5 202.5,368.6 214.8,369.9 222.0,372.3 229.3,369.0 235.5,369.9 240.6,365.7 247.8,363.7 252.0,361.2 260.2,360.2 269.5,353.6 274.6,353.4 284.9,350.5 295.2,349.9 299.3,346.4 303.5,346.4 307.6,347.4 313.8,345.1 322.0,345.8 328.2,344.3 338.5,343.3 352.4,340.5 358.5,341.5 365.8,340.9 369.9,348.9 383.3,351.2 393.6,350.8 399.8,352.2 412.1,351.4 426.5,351.4 436.8,350.6 455.4,351.4 459.5,350.2 469.8,349.8 480.1,347.7 488.4,344.6 500.7,345.2 506.9,344.6 510.6,332.2 521.3,332.2 525.5,348.5 535.8,349.3 550.2,349.3 558.4,346.7 566.7,346.0 574.9,345.6 581.1,344.0 587.3,342.1 599.6,341.5 603.8,340.1 616.1,339.0 639.3,338.8 648.5,336.4 661.9,333.3 672.2,318.8 679.5,314.3 681.5,314.3 685.2,328.1 695.9,328.7 710.4,328.1 722.7,329.6 739.2,330.6 757.8,331.6 770.1,331.6 778.4,330.2 801.0,328.1 805.1,329.2 808.2,331.2 811.3,329.6 834.0,329.6 837.5,320.9 841.6,329.6 844.3,328.5 867.0,329.2 871.1,327.1 879.3,324.0 887.6,324.2 897.9,326.1 906.1,325.0 918.5,325.6 928.2,324.9 940.6,323.3 948.8,324.3 957.1,326.4 971.5,327.8 981.8,328.4 1002.4,328.0 1021.0,328.4 1023.0,327.4 1043.6,327.8 1048.8,329.0 1053.9,332.1 1064.2,331.5 1076.6,330.5 1084.8,331.1 1097.2,330.1 1105.5,327.8 1117.8,326.4 1126.1,325.7 1134.3,324.1 1146.7,323.9 1157.0,322.9 1160.7,313.4 1167.2,312.5 1172.0,312.0 1180.0,308.8 1186.4,304.0 1190.4,291.2 1196.8,290.4 1203.5,280.8 1213.1,267.6 1218.4,265.4 1224.8,264.2 1231.2,255.2 1238.7,244.5 1244.0,245.6 1249.3,246.0 1252.5,241.8 1256.8,240.7 1263.2,229.6 1269.6,227.9 1276.0,227.5 1280.3,224.9 1288.8,223.6 1301.6,222.3 1309.1,212.5 1313.3,212.1 1316.5,207.8 1320.8,207.2 1324.0,203.6 1329.3,202.9 1335.7,197.6 1341.1,201.9 1348.5,200.8 1353.9,199.7 1357.1,188.6 1360.3,186.9 1366.7,180.1 1373.1,180.5 1379.5,179.5 1384.8,176.3 1390.1,174.1 1394.4,163.5 1399.7,158.1 1405.6,153.9" fill="none" stroke="#3a5a3a" stroke-width="1.45" stroke-linejoin="round"/></g>
<line x1="50.5" x2="1405.6" y1="548.6" y2="548.6" stroke="#8a8a8a" stroke-width="1.2"/>
<line x1="50.5" x2="50.5" y1="114.2" y2="549.2" stroke="#555" stroke-width="1.3"/>
<g font-family="Liberation Sans, Arial, sans-serif" font-size="13.5" fill="#6a6a6a"><text x="46.2" y="521.1" text-anchor="end">1B</text><text x="46.2" y="482.6" text-anchor="end">2B</text><text x="46.2" y="444.1" text-anchor="end">3B</text><text x="46.2" y="405.6" text-anchor="end">4B</text><text x="46.2" y="367.1" text-anchor="end">5B</text><text x="46.2" y="328.6" text-anchor="end">6B</text><text x="46.2" y="290.1" text-anchor="end">7B</text><text x="46.2" y="251.6" text-anchor="end">8B</text><text x="46.2" y="213.1" text-anchor="end">9B</text><text x="46.2" y="174.6" text-anchor="end">10B</text><text x="46.2" y="136.1" text-anchor="end">11B</text><text x="46.2" y="558.4" text-anchor="end">0</text></g>
<g font-family="Liberation Sans, Arial, sans-serif" font-size="12.5" fill="#666"><text x="127.2" y="567.6" text-anchor="middle">Jun 2019</text><text x="239.0" y="567.6" text-anchor="middle">Jul 2019</text><text x="353.6" y="567.6" text-anchor="middle">Aug 2019</text><text x="469.5" y="567.6" text-anchor="middle">Sep 2019</text><text x="580.6" y="567.6" text-anchor="middle">Oct 2019</text><text x="695.5" y="567.6" text-anchor="middle">Nov 2019</text><text x="806.9" y="567.6" text-anchor="middle">Dec 2019</text><text x="922.6" y="567.6" text-anchor="middle">Jan 2020</text><text x="1037.3" y="567.6" text-anchor="middle">Feb 2020</text><text x="1145.1" y="567.6" text-anchor="middle">Mar 2020</text><text x="1259.7" y="567.6" text-anchor="middle">Apr 2020</text><text x="1372.3" y="567.6" text-anchor="middle">May 2020</text></g>
</svg>
<div class="sel" style="left:49.3px;top:16.4px;width:666.9px;height:26.2px"><span class="st" style="left:8.8px;font-size:16.75px">Capitalization, market, current supply, USD</span><span class="arr" style="right:4.2px"></span></div>
<div class="sel" style="left:744.3px;top:16.4px;width:666.9px;height:26.2px"><span class="st" style="left:8.0px;top:0.3px;font-size:17.1px">Compare with...</span><span class="arr" style="right:4.2px"></span></div>
<div class="grp" style="left:49px;top:64px;width:225px;height:26px"><div class="b" style="left:0px;width:67px;font-size:14.7px">Show all</div><div class="b" style="left:67px;width:77px;font-size:14.7px">Zoom out</div><div class="b" style="left:144px;width:81px;font-size:14.7px">Prev zoom</div><div class="dv" style="left:66px"></div><div class="dv" style="left:143px"></div></div><div class="grp" style="left:287px;top:64px;width:129px;height:26px"><div class="b" style="left:0px;width:34px;font-size:14.7px">1m</div><div class="b" style="left:34px;width:34px;font-size:14.7px">3m</div><div class="b" style="left:68px;width:28px;font-size:14.7px">1y</div><div class="b" style="left:96px;width:33px;font-size:14.7px">ytd</div><div class="dv" style="left:33px"></div><div class="dv" style="left:67px"></div><div class="dv" style="left:95px"></div></div><div class="grp" style="left:428px;top:64px;width:84px;height:26px"><div class="b" style="left:0px;width:84px;font-size:14.7px">Full screen</div></div><div class="grp" style="left:49px;top:618px;width:70px;height:26px"><div class="b" style="left:0px;width:37px;font-size:14.6px">Log</div><div class="b act" style="left:37px;width:33px;font-size:14.6px">Lin</div><div class="dv" style="left:36px"></div></div><div class="grp" style="left:131px;top:618px;width:283px;height:26px"><div class="b act" style="left:0px;width:58px;font-size:14.6px">No avg</div><div class="b" style="left:58px;width:29px;font-size:14.6px">7d</div><div class="b" style="left:87px;width:38px;font-size:14.6px">14d</div><div class="b" style="left:125px;width:37px;font-size:14.6px">30d</div><div class="b" style="left:162px;width:37px;font-size:14.6px">50d</div><div class="b" style="left:199px;width:37px;font-size:14.6px">90d</div><div class="b" style="left:236px;width:47px;font-size:14.6px">200d</div><div class="dv" style="left:57px"></div><div class="dv" style="left:86px"></div><div class="dv" style="left:124px"></div><div class="dv" style="left:161px"></div><div class="dv" style="left:198px"></div><div class="dv" style="left:235px"></div></div><div class="grp" style="left:427px;top:618px;width:114px;height:26px"><div class="b act" style="left:0px;width:47px;font-size:14.6px">Basic</div><div class="b" style="left:47px;width:67px;font-size:14.6px">Formula</div><div class="dv" style="left:46px"></div></div><div class="grp" style="left:553px;top:618px;width:67px;height:26px"><div class="b" style="left:0px;width:67px;font-size:14.6px">Settings</div></div>
<div class="nav"><div class="navsel"></div><div class="ntick" style="left:-0.9px"></div><div class="nlab" style="left:1.9px">10-2014</div><div class="ntick" style="left:339.7px"></div><div class="nlab" style="left:342.5px">2-2016</div><div class="ntick" style="left:680.7px"></div><div class="nlab" style="left:683.5px">7-2017</div><div class="ntick" style="left:1021.2px"></div><div class="nlab" style="left:1024.0px">12-2018</div><div class="ntick" style="left:1360.4px"></div><div class="nlab r" style="right:1.5px">5-2020</div></div>
<div class="sel small" style="left:49.2px;top:657.4px;width:73.2px;height:26.6px"><span class="st" style="left:8.6px;top:-1.4px;bottom:1.4px;font-size:15px">More</span><span class="arr sm" style="right:5.2px"></span></div><div class="coin" style="left:128.8px;top:657.4px"><span class="c f" style="background:#4682b4"></span><span class="cl" style="font-size:14.2px">USDC</span></div><div class="coin" style="left:208.3px;top:657.4px"><span class="c f" style="background:#32cd32"></span><span class="cl" style="font-size:14.2px">TUSD</span></div><div class="coin" style="left:287.8px;top:657.4px"><span class="c f" style="background:#e0103c"></span><span class="cl" style="font-size:14.2px">SAI</span></div><div class="coin" style="left:367.4px;top:657.4px"><span class="c f" style="background:#ee82ee"></span><span class="cl" style="font-size:14.2px">PAX</span></div><div class="coin" style="left:446.9px;top:657.4px"><span class="c f" style="background:#20c4c8"></span><span class="cl" style="font-size:14.2px">HUSD</span></div><div class="coin" style="left:526.5px;top:657.4px"><span class="c f" style="background:#ffa500"></span><span class="cl" style="font-size:14.2px">GUSD</span></div><div class="coin" style="left:606.1px;top:657.4px"><span class="c f" style="background:#dc143c"></span><span class="cl" style="font-size:14.2px">DAI</span></div><div class="coin" style="left:685.6px;top:657.4px"><span class="c f" style="background:#00bfff"></span><span class="cl" style="font-size:14.2px">BUSD</span></div><div class="coin" style="left:765.1px;top:657.4px"><span class="c"></span><span class="cl" style="font-size:14.2px">BTC</span></div><div class="coin" style="left:844.7px;top:657.4px"><span class="c"></span><span class="cl" style="font-size:14.2px">BCH</span></div><div class="coin" style="left:924.2px;top:657.4px"><span class="c"></span><span class="cl" style="font-size:14.2px">LTC</span></div><div class="coin" style="left:1003.8px;top:657.4px"><span class="c"></span><span class="cl" style="font-size:14.2px">ETH</span></div><div class="coin" style="left:1083.3px;top:657.4px"><span class="c"></span><span class="cl" style="font-size:14.2px">ETC</span></div><div class="coin" style="left:1162.9px;top:657.4px"><span class="c"></span><span class="cl" style="font-size:14.2px">DASH</span></div><div class="coin" style="left:1242.5px;top:657.4px"><span class="c"></span><span class="cl" style="font-size:14.2px">PIVX</span></div><div class="coin" style="left:1322.0px;top:657.4px"><span class="c"></span><span class="cl" style="font-size:14.2px">DCR</span></div><div class="coin" style="left:49.2px;top:690.4px"><span class="c"></span><span class="cl" style="font-size:14.2px">XEM</span></div><div class="coin" style="left:128.8px;top:690.4px"><span class="c"></span><span class="cl" style="font-size:14.2px">ZEC</span></div><div class="coin" style="left:208.3px;top:690.4px"><span class="c"></span><span class="cl" style="font-size:14.2px">DOGE</span></div><div class="coin" style="left:287.8px;top:690.4px"><span class="c"></span><span class="cl" style="font-size:14.2px">XMR</span></div><div class="coin" style="left:367.4px;top:690.4px"><span class="c"></span><span class="cl" style="font-size:14.2px">VTC</span></div><div class="coin" style="left:446.9px;top:690.4px"><span class="c"></span><span class="cl" style="font-size:14.2px">XVG</span></div><div class="coin" style="left:526.5px;top:690.4px"><span class="c"></span><span class="cl" style="font-size:14.2px">DGB</span></div><div class="coin" style="left:606.1px;top:690.4px"><span class="c"></span><span class="cl" style="font-size:14.2px">BTG</span></div><div class="coin" style="left:685.6px;top:690.4px"><span class="c"></span><span class="cl" style="font-size:14.2px">ADA</span></div><div class="coin" style="left:765.1px;top:690.4px"><span class="c"></span><span class="cl" style="font-size:14.2px">LSK</span></div><div class="coin" style="left:844.7px;top:690.4px"><span class="c"></span><span class="cl" style="font-size:14.2px">NEO</span></div><div class="coin" style="left:924.2px;top:690.4px"><span class="c"></span><span class="cl" style="font-size:14.2px">GAS</span></div><div class="coin" style="left:1003.8px;top:690.4px"><span class="c"></span><span class="cl" style="font-size:14.2px">XLM</span></div><div class="coin" style="left:1083.3px;top:690.4px"><span class="c"></span><span class="cl" style="font-size:11.8px">WAVES</span></div><div class="coin" style="left:1162.9px;top:690.4px"><span class="c f" style="background:#006400"></span><span class="cl" style="font-size:11.8px">USDTo</span></div><div class="coin" style="left:1242.5px;top:690.4px"><span class="c f" style="background:#32cd32"></span><span class="cl" style="font-size:11.8px">USDTe</span></div><div class="coin" style="left:1322.0px;top:690.4px"><span class="c f" style="background:#20b2aa"></span><span class="cl" style="font-size:11.8px">USDTt</span></div><div class="coin" style="left:49.2px;top:723.4px"><span class="c"></span><span class="cl" style="font-size:14.2px">MAID</span></div><div class="coin" style="left:128.8px;top:723.4px"><span class="c"></span><span class="cl" style="font-size:14.2px">XRP</span></div><div class="coin" style="left:208.3px;top:723.4px"><span class="c"></span><span class="cl" style="font-size:14.2px">BSV</span></div><div class="coin" style="left:287.8px;top:723.4px"><span class="c"></span><span class="cl" style="font-size:14.2px">MKR</span></div><div class="coin" style="left:367.4px;top:723.4px"><span class="c"></span><span class="cl" style="font-size:14.2px">GRIN</span></div><div class="coin" style="left:446.9px;top:723.4px"><span class="c"></span><span class="cl" style="font-size:14.2px">XTZ</span></div><div class="coin" style="left:526.5px;top:723.4px"><span class="c"></span><span class="cl" style="font-size:14.2px">EOS</span></div><div class="coin" style="left:606.1px;top:723.4px"><span class="c"></span><span class="cl" style="font-size:14.2px">TRX</span></div><div class="coin" style="left:685.6px;top:723.4px"><span class="c"></span><span class="cl" style="font-size:14.2px">BNB</span></div><div class="coin" style="left:765.1px;top:723.4px"><span class="c"></span><span class="cl" style="font-size:11.8px">LEOeh</span></div><div class="coin" style="left:844.7px;top:723.4px"><span class="c"></span><span class="cl" style="font-size:11.8px">LEOes</span></div>
</body></html>
